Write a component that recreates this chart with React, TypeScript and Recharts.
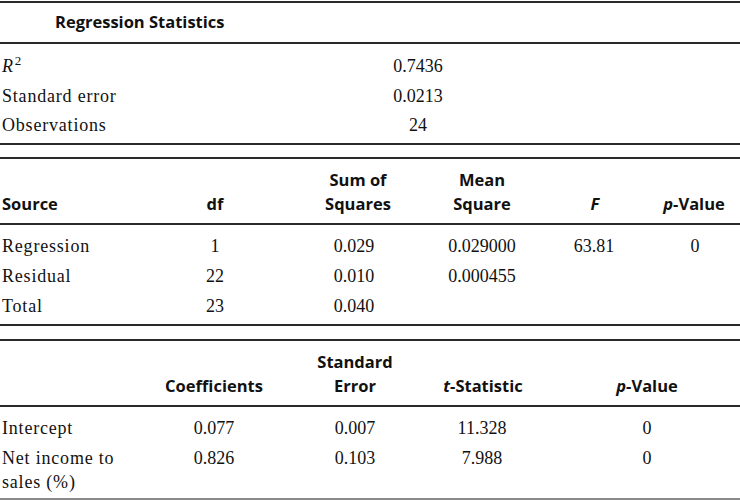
import React from "react";
import { ScatterChart, Scatter, XAxis, YAxis, ReferenceLine } from "recharts";

// Regression statistics
const statLabels = ["*R*^2^", "Standard error", "Observations"];
const statValues = ["0.7436", "0.0213", "24"];

// ANOVA table
const anovaHeaders = ["Source", "df", "Sum of\nSquares", "Mean\nSquare", "*F*", "*p*-Value"];
const anovaSources = ["Regression", "Residual", "Total"];
const anovaDf = ["1", "22", "23"];
const anovaSS = ["0.029", "0.010", "0.040"];
const anovaMS = ["0.029000", "0.000455", ""];
const anovaF = ["63.81", "", ""];
const anovaP = ["0", "", ""];

// Coefficients table
const coefHeaders = ["Coefficients", "Standard\nError", "*t*-Statistic", "*p*-Value"];
const coefTerms = ["Intercept", "Net income to\nsales (%)"];
const coefValues = ["0.077", "0.826"];
const coefSE = ["0.007", "0.103"];
const coefT = ["11.328", "7.988"];
const coefP = ["0", "0"];

const W = 740;
const H = 501;
const SERIF = "'Liberation Serif', 'Times New Roman', serif";
const SANS = "'Open Sans', 'Noto Sans', sans-serif";
const LINE_H = 24;

// horizontal rules
const rules = [
  { y: 2, color: "#2a2a2a" },
  { y: 43, color: "#2a2a2a" },
  { y: 144, color: "#2a2a2a" },
  { y: 158, color: "#2a2a2a" },
  { y: 224, color: "#2a2a2a" },
  { y: 325, color: "#2a2a2a" },
  { y: 340, color: "#2a2a2a" },
  { y: 406, color: "#2a2a2a" },
  { y: 499, color: "#8a8a8a" },
];

type Cell = { x: number; y: number; text: string; anchor: "start" | "middle"; bold: boolean };

const cells: Cell[] = [];
const add = (x: number, y: number, text: string, anchor: "start" | "middle", bold = false) => {
  if (text) cells.push({ x, y, text, anchor, bold });
};

// table 1
add(55, 28, "Regression Statistics", "start", true);
const statRows = [72, 102, 131];
statLabels.forEach((t, i) => add(2, statRows[i], t, "start"));
statValues.forEach((t, i) => add(418, statRows[i], t, "middle"));

// table 2
const anovaHeadX = [2, 215, 358, 482, 595, 694];
anovaHeaders.forEach((t, i) => add(anovaHeadX[i], 210, t, i === 0 ? "start" : "middle", true));
const anovaRows = [252, 282, 312];
const anovaColX = [215, 354, 482, 594, 695];
anovaSources.forEach((t, i) => add(2, anovaRows[i], t, "start"));
[anovaDf, anovaSS, anovaMS, anovaF, anovaP].forEach((col, c) =>
  col.forEach((t, i) => add(anovaColX[c], anovaRows[i], t, "middle"))
);

// table 3
const coefHeadX = [214, 355, 483, 647];
coefHeaders.forEach((t, i) => add(coefHeadX[i], 392, t, "middle", true));
const coefRows = [434, 464];
const coefColX = [214, 355, 482, 647];
coefTerms.forEach((t, i) => add(2, coefRows[i], t, "start"));
[coefValues, coefSE, coefT, coefP].forEach((col, c) =>
  col.forEach((t, i) => add(coefColX[c], coefRows[i], t, "middle"))
);

// "*x*" -> italic, "^x^" -> superscript
function renderRich(line: string) {
  const parts = line.split(/(\*[^*]+\*|\^[^^]+\^)/).filter(Boolean);
  return parts.map((p, i) => {
    if (p.startsWith("*")) return <tspan key={i} fontStyle="italic">{p.slice(1, -1)}</tspan>;
    if (p.startsWith("^"))
      return (
        <tspan key={i} fontSize={13} dy={-7} dx={1}>
          {p.slice(1, -1)}
        </tspan>
      );
    return <tspan key={i}>{p}</tspan>;
  });
}

function CellShape(props: any) {
  const { cx, cy, payload } = props;
  if (cx == null || cy == null) return null;
  const lines = String(payload.text).split("\n");
  // headers are bottom-aligned, body text wraps downward
  const start = payload.bold ? cy - (lines.length - 1) * LINE_H : cy;
  const isLabel = !payload.bold && payload.anchor === "start";
  return (
    <g>
      {lines.map((ln, i) => (
        <text
          key={i}
          x={cx}
          y={start + i * LINE_H}
          textAnchor={payload.anchor}
          fontFamily={payload.bold ? SANS : SERIF}
          fontWeight={payload.bold ? 700 : 400}
          fontSize={payload.bold ? 16.5 : 18}
          letterSpacing={isLabel ? 0.8 : 0}
          fill="#111"
        >
          {renderRich(ln)}
        </text>
      ))}
    </g>
  );
}

export default function App() {
  return (
    <div style={{ width: W, height: H, background: "#fff" }}>
      <style>{`body{margin:0;background:#fff}`}</style>
      <ScatterChart width={W} height={H} margin={{ top: 0, right: 0, bottom: 0, left: 0 }}>
        <XAxis type="number" dataKey="x" domain={[0, W]} hide />
        <YAxis type="number" dataKey="y" domain={[0, H]} reversed hide />
        {rules.map((r) => (
          <ReferenceLine key={r.y} y={r.y} stroke={r.color} strokeWidth={2} ifOverflow="visible" />
        ))}
        <Scatter data={cells} shape={CellShape} isAnimationActive={false} />
      </ScatterChart>
    </div>
  );
}
